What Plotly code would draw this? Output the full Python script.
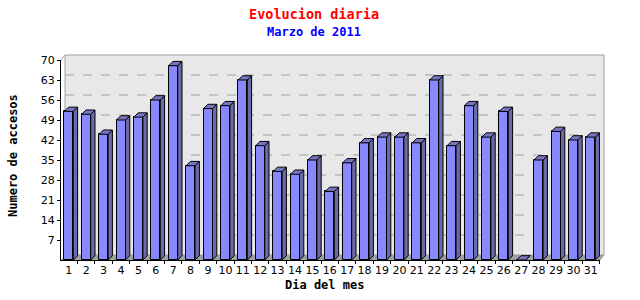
import plotly.graph_objects as go

# ---- data ----
days = list(range(1, 32))
visits = [52, 51, 44, 49, 50, 56, 68, 33, 53, 54, 63, 40, 31, 30, 35, 24, 34,
          41, 43, 43, 41, 63, 40, 54, 43, 52, 0, 35, 45, 42, 43]
y_ticks = [7, 14, 21, 28, 35, 42, 49, 56, 63, 70]
x_labels = [str(d) for d in days]

title = "Evolucion diaria"
subtitle = "Marzo de 2011"
x_title = "Dia del mes"
y_title = "Numero de accesos"

# ---- layout geometry (pixels) ----
W, H = 640, 300
L, R, T, B = 61, 40, 60, 40
pw, ph = W - L - R, H - T - B
ymax = 70
px_per_day = 17.4
x_left = 1 - (68.8 - L) / px_per_day
x_right = x_left + pw / px_per_day
px_per_unit = ph / ymax

wall_dx, wall_dy = 4, 5          # back wall offset, px
bar_dx, bar_dy = 4.3, 4.3        # bar depth, px
half_w = 4.5 / px_per_day
ddx = bar_dx / px_per_day
ddy = bar_dy / px_per_unit

front_col = "#8888ff"
side_col = "#6a6aa8"
top_col = "#7676c4"


def px_to_paper(px, py):
    return (px - L) / pw, (H - B - py) / ph


# ---- 3D faces derived from the data ----
sx, sy, tx, ty = [], [], [], []
for d, v in zip(days, visits):
    r = d + half_w
    l = d - half_w
    sx += [r, r + ddx, r + ddx, r, r, None]
    sy += [0, ddy, v + ddy, v, 0, None]
    tx += [l, r, r + ddx, l + ddx, l, None]
    ty += [v, v, v + ddy, v + ddy, v, None]

fig = go.Figure()
fig.add_trace(go.Scatter(x=sx, y=sy, mode="lines", fill="toself",
                         fillcolor=side_col, line=dict(color="black", width=1),
                         hoverinfo="skip", showlegend=False, cliponaxis=False))
fig.add_trace(go.Scatter(x=tx, y=ty, mode="lines", fill="toself",
                         fillcolor=top_col, line=dict(color="black", width=1),
                         hoverinfo="skip", showlegend=False, cliponaxis=False))
fig.add_trace(go.Bar(x=days, y=visits, width=2 * half_w,
                     marker=dict(color=front_col, line=dict(color="black", width=1)),
                     showlegend=False))

# ---- back wall, floor, grid (layout shapes) ----
wxp = wall_dx / pw
wyp = wall_dy / ph
shapes = []
shapes.append(dict(type="rect", xref="paper", yref="paper",
                   x0=wxp, x1=1 + wxp, y0=wyp, y1=1 + wyp,
                   fillcolor="#e8e8e8", line=dict(color="#a0a0a0", width=1),
                   layer="below"))
shapes.append(dict(type="path", xref="paper", yref="paper",
                   path=f"M 0 0 L 1 0 L {1 + wxp} {wyp} L {wxp} {wyp} Z",
                   fillcolor="#a0a0a0", line=dict(width=0), layer="below"))
for t in y_ticks[:-1]:
    yp = t / ymax + wyp
    shapes.append(dict(type="line", xref="paper", yref="paper",
                       x0=wxp, x1=1 + wxp, y0=yp, y1=yp,
                       line=dict(color="#a0a0a0", width=1, dash="dash"),
                       layer="below"))
shapes.append(dict(type="line", xref="paper", yref="paper",
                   x0=0, y0=1, x1=wxp, y1=1 + wyp,
                   line=dict(color="#a0a0a0", width=1)))
shapes.append(dict(type="line", xref="paper", yref="paper",
                   x0=1, y0=0, x1=1 + wxp, y1=wyp,
                   line=dict(color="#a0a0a0", width=1)))


def ann(text, px, py, size, color, angle=0):
    x, y = px_to_paper(px, py)
    return dict(text=f"<b>{text}</b>", x=x, y=y, xref="paper", yref="paper",
                xanchor="center", yanchor="middle", showarrow=False,
                textangle=angle,
                font=dict(family="DejaVu Sans Mono", size=size, color=color))


annotations = [
    ann(title, 314, 14, 13.5, "#ff0000"),
    ann(subtitle, 314, 32, 12, "#0000ff"),
    ann(x_title, 324, 285, 12, "black"),
    ann(y_title, 13, 156, 12, "black", -90),
]

fig.update_layout(
    width=W, height=H,
    margin=dict(l=L, r=R, t=T, b=B, pad=0),
    paper_bgcolor="white", plot_bgcolor="rgba(0,0,0,0)",
    shapes=shapes, annotations=annotations,
    bargap=0,
    xaxis=dict(range=[x_left, x_right], tickmode="array", tickvals=days,
               ticktext=x_labels, ticks="", showgrid=False, zeroline=False,
               showline=True, linecolor="black", linewidth=1,
               tickfont=dict(family="DejaVu Sans", size=11, color="black"),
               minor=dict(tick0=0.5, dtick=1, ticks="outside", ticklen=3,
                          tickcolor="black", showgrid=False)),
    yaxis=dict(range=[0, ymax], tickmode="array", tickvals=y_ticks,
               ticks="outside", ticklen=3, tickcolor="black",
               showgrid=False, zeroline=False, showline=True,
               linecolor="black", linewidth=1,
               tickfont=dict(family="DejaVu Sans", size=11, color="black")),
)

fig.write_html("out.html")
